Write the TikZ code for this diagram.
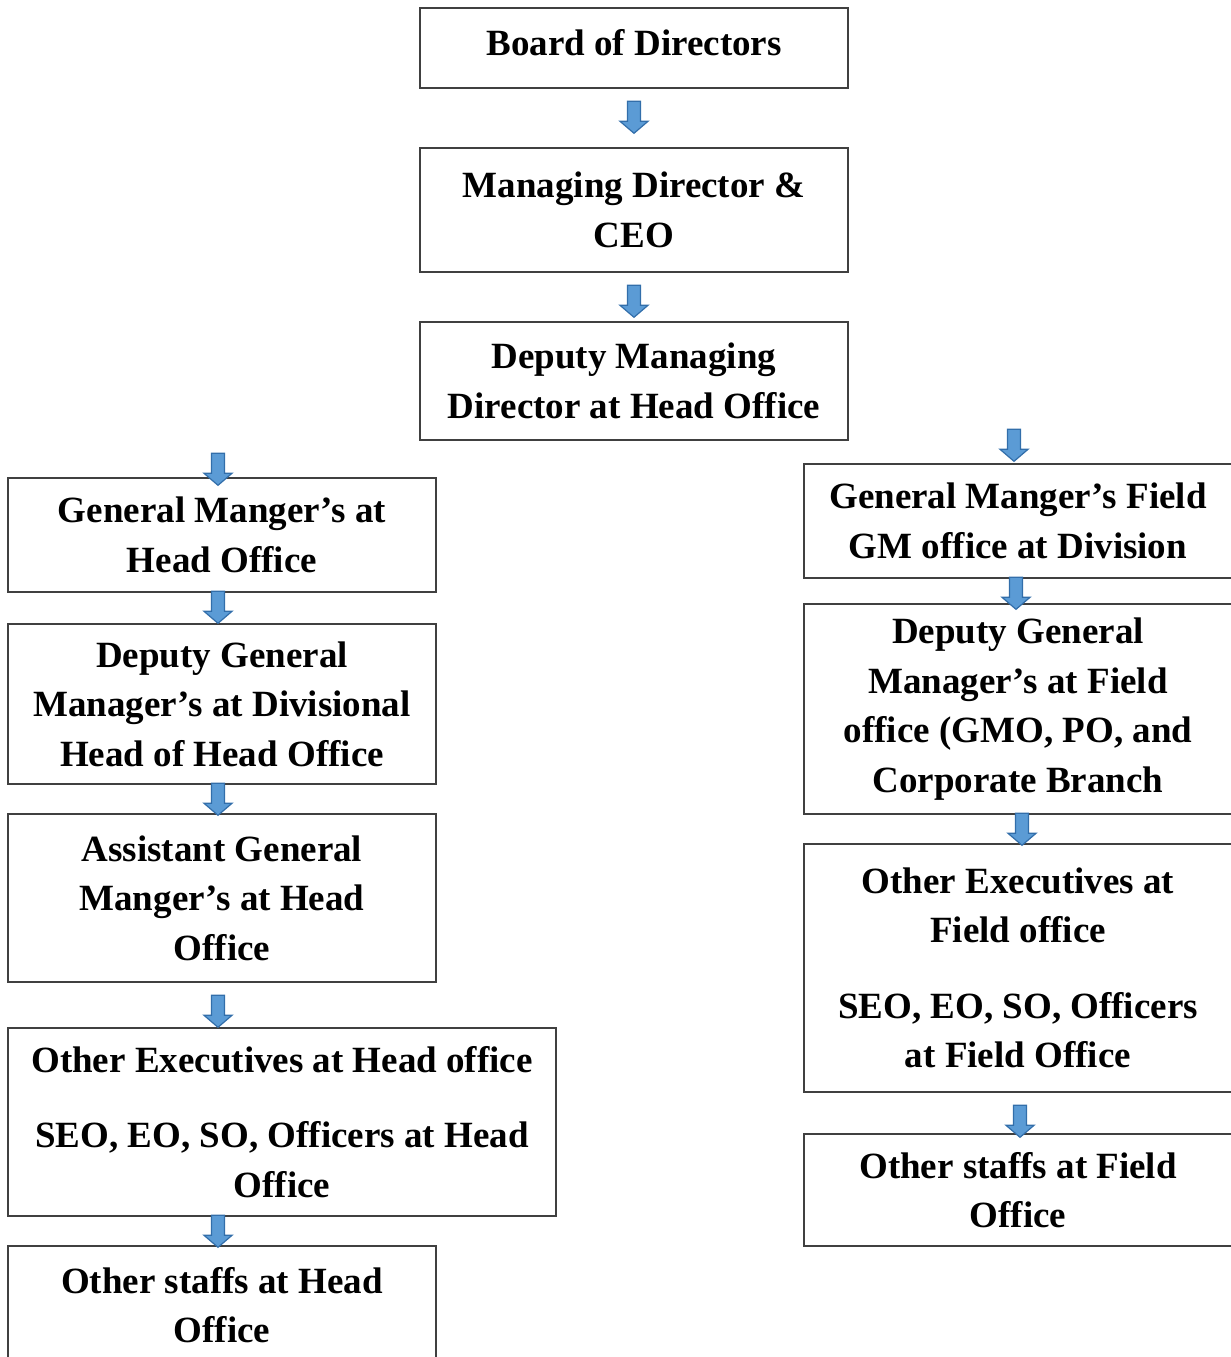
\documentclass[tikz,border=0pt]{standalone}
\usepackage{fontspec}
\setmainfont{Liberation Serif}
\usepackage{tikz}
\definecolor{arrowblue}{RGB}{91,155,213}
\definecolor{arrowedge}{RGB}{50,110,170}
\definecolor{boxline}{RGB}{64,64,64}
\tikzset{
  downarrow/.pic={
    \filldraw[fill=arrowblue, draw=arrowedge, line width=1.2pt, line join=miter]
      (-6.5,32) -- (-6.5,12) -- (-14,12) -- (0,0) -- (14,12) -- (6.5,12) -- (6.5,32) -- cycle;
  }
}
\begin{document}
\begin{tikzpicture}[x=1pt, y=1pt,
  orgbox/.style={draw=boxline, line width=1.4pt, minimum width=428pt, inner sep=2pt,
    align=center, font=\fontsize{37}{49.5}\selectfont\bfseries}]
\useasboundingbox (0,0) rectangle (1231,-1357);
\clip (0,0) rectangle (1231,-1357);

% Top
\node[orgbox, minimum height=80pt, text depth=12pt] (board) at (634,-48) {Board of Directors};
\node[orgbox, minimum height=124pt] (mdceo) at (634,-210) {Managing Director \&\\CEO};
\node[orgbox, minimum height=118pt] (dmd) at (634,-381) {Deputy Managing\\Director at Head Office};

% Head office column
\node[orgbox, minimum height=114pt] (gmho) at (222,-535) {General Manger's at\\Head Office};
\node[orgbox, minimum height=160pt] (dgmho) at (222,-704) {Deputy General\\Manager's at Divisional\\Head of Head Office};
\node[orgbox, minimum height=168pt] (agmho) at (222,-898) {Assistant General\\Manger's at Head\\Office};
\node[orgbox, minimum width=548pt, minimum height=188pt] (exho) at (282,-1122)
  {Other Executives at Head office\\[26pt]SEO, EO, SO, Officers at Head\\Office};
\node[orgbox, minimum height=118pt] (stho) at (222,-1305) {Other staffs at Head\\Office};

% Field office column
\node[orgbox, minimum height=114pt] (gmfd) at (1018,-521) {General Manger's Field\\GM office at Division};
\node[orgbox, minimum height=210pt] (dgmfd) at (1018,-709) {Deputy General\\Manager's at Field\\office (GMO, PO, and\\Corporate Branch};
\node[orgbox, minimum height=248pt] (exfd) at (1018,-968)
  {Other Executives at\\Field office\\[26pt]SEO, EO, SO, Officers\\at Field Office};
\node[orgbox, minimum height=112pt] (stfd) at (1018,-1190) {Other staffs at Field\\Office};

% Arrows
\pic at ([yshift=14pt]mdceo.north) {downarrow};
\pic at ([yshift=4pt]dmd.north) {downarrow};
\pic at ([xshift=-4pt, yshift=-8pt]gmho.north) {downarrow};
\pic at ([xshift=-4pt]dgmho.north) {downarrow};
\pic at ([xshift=-4pt, yshift=-2pt]agmho.north) {downarrow};
\pic at ([xshift=-4pt]agmho.south |- exho.north) {downarrow};
\pic at ([xshift=-4pt, yshift=-2pt]stho.north) {downarrow};
\pic at ([xshift=-4pt, yshift=2pt]gmfd.north) {downarrow};
\pic at ([xshift=-2pt, yshift=-6pt]dgmfd.north) {downarrow};
\pic at ([xshift=4pt, yshift=-2pt]exfd.north) {downarrow};
\pic at ([xshift=2pt, yshift=-4pt]stfd.north) {downarrow};
\end{tikzpicture}
\end{document}
